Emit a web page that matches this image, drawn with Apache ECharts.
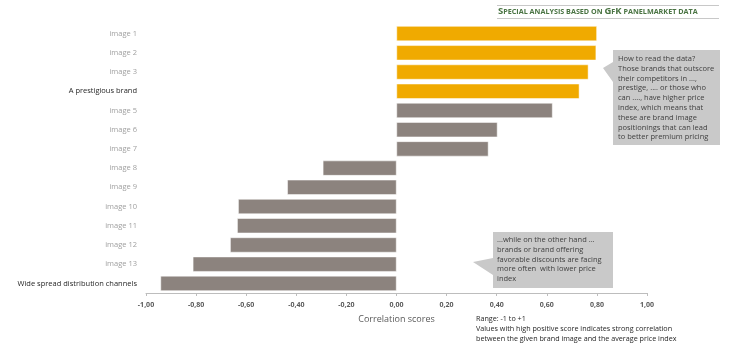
<!DOCTYPE html>
<html>
<head>
<meta charset="utf-8">
<script src="https://cdn.jsdelivr.net/npm/echarts@6/dist/echarts.min.js"></script>
<style>
  html, body { margin: 0; padding: 0; background: #fff; }
  #chart { width: 733px; height: 346px; }
</style>
</head>
<body>
<div id="chart"></div>
<script>
// categories, top to bottom
var categories = ['image 1', 'image 2', 'image 3', 'A prestigious brand', 'image 5', 'image 6', 'image 7',
  'image 8', 'image 9', 'image 10', 'image 11', 'image 12', 'image 13', 'Wide spread distribution channels'];
// correlation with price index
var scores = [0.80, 0.797, 0.766, 0.73, 0.623, 0.403, 0.367,
  -0.294, -0.436, -0.632, -0.636, -0.664, -0.813, -0.942];
var highlighted = ['image 1', 'image 2', 'image 3', 'A prestigious brand'];
var boldLabels = ['A prestigious brand', 'Wide spread distribution channels'];

var font = '"Open Sans", "Liberation Sans", sans-serif';

var myChart = echarts.init(document.getElementById('chart'));

var option = {
  animation: false,
  grid: { left: 146, right: 86, top: 24, bottom: 53 },
  xAxis: {
    type: 'value',
    min: -1, max: 1, interval: 0.2,
    axisLine: { show: true, lineStyle: { color: '#bdbdbd' } },
    axisTick: { show: true, length: 3, lineStyle: { color: '#bdbdbd' } },
    splitLine: { show: false },
    axisLabel: {
      fontFamily: font, fontSize: 7, fontWeight: 'bold', color: '#595959', margin: 8,
      formatter: function (v) { return v.toFixed(2).replace('.', ','); }
    },
    name: 'Correlation scores',
    nameLocation: 'middle',
    nameGap: 22,
    nameTextStyle: { fontFamily: font, fontSize: 9, color: '#595959' }
  },
  yAxis: {
    type: 'category',
    data: categories,
    inverse: true,
    axisLine: { show: false },
    axisTick: { show: false },
    axisLabel: {
      margin: 9,
      formatter: function (v) {
        return boldLabels.indexOf(v) >= 0 ? '{d|' + v + '}' : '{n|' + v + '}';
      },
      rich: {
        n: { fontFamily: font, fontSize: 7.5, color: '#a0a0a0' },
        d: { fontFamily: font, fontSize: 7.5, color: '#262626' }
      }
    }
  },
  series: [{
    type: 'bar',
    data: scores,
    barCategoryGap: '22%',
    itemStyle: {
      color: function (p) {
        return highlighted.indexOf(categories[p.dataIndex]) >= 0 ? '#f0aa00' : '#8c837e';
      },
      borderColor: '#fff',
      borderWidth: 0.5
    }
  }],
  graphic: [
    // title with rules
    { type: 'line', shape: { x1: 497, y1: 5.5, x2: 719, y2: 5.5 }, style: { stroke: '#c8c8c8', lineWidth: 1 } },
    { type: 'line', shape: { x1: 497, y1: 18.5, x2: 719, y2: 18.5 }, style: { stroke: '#c8c8c8', lineWidth: 1 } },
    {
      type: 'text', left: 498, top: 6.5,
      style: {
        text: '{a|S}{b|PECIAL ANALYSIS BASED ON }{a|G}{b|F}{a|K}{b| PANELMARKET DATA}',
        rich: {
          a: { fontFamily: font, fontSize: 9.5, fontWeight: 'bold', fill: '#4a7443' },
          b: { fontFamily: font, fontSize: 7.2, fontWeight: 'bold', fill: '#4a7443' }
        }
      }
    },
    // callout 1
    {
      type: 'polygon',
      shape: { points: [[613, 50], [720, 50], [720, 145], [613, 145], [613, 82], [603, 68], [613, 62]] },
      style: { fill: '#c9c9c9' }
    },
    {
      type: 'text', left: 618, top: 54,
      style: {
        text: 'How to read the data?\nThose brands that outscore\ntheir competitors in ...,\nprestige, .... or those who\ncan ...., have higher price\nindex, which means that\nthese are brand image\npositionings that can lead\nto better premium pricing',
        fontFamily: font, fontSize: 7.5, lineHeight: 9.8, fill: '#404040'
      }
    },
    // callout 2
    {
      type: 'polygon',
      shape: { points: [[493, 232], [613, 232], [613, 288], [493, 288], [493, 275], [473, 262], [493, 258]] },
      style: { fill: '#c9c9c9' }
    },
    {
      type: 'text', left: 497, top: 235,
      style: {
        text: '...while on the other hand ...\nbrands or brand offering\nfavorable discounts are facing\nmore often  with lower price\nindex',
        fontFamily: font, fontSize: 7.5, lineHeight: 9.8, fill: '#404040'
      }
    },
    // range note
    {
      type: 'text', left: 476, top: 314,
      style: {
        text: 'Range: -1 to +1\nValues with high positive score indicates strong correlation\nbetween the given brand image and the average price index',
        fontFamily: font, fontSize: 7.2, lineHeight: 9.8, fill: '#262626'
      }
    }
  ]
};
myChart.setOption(option);
</script>
</body>
</html>
